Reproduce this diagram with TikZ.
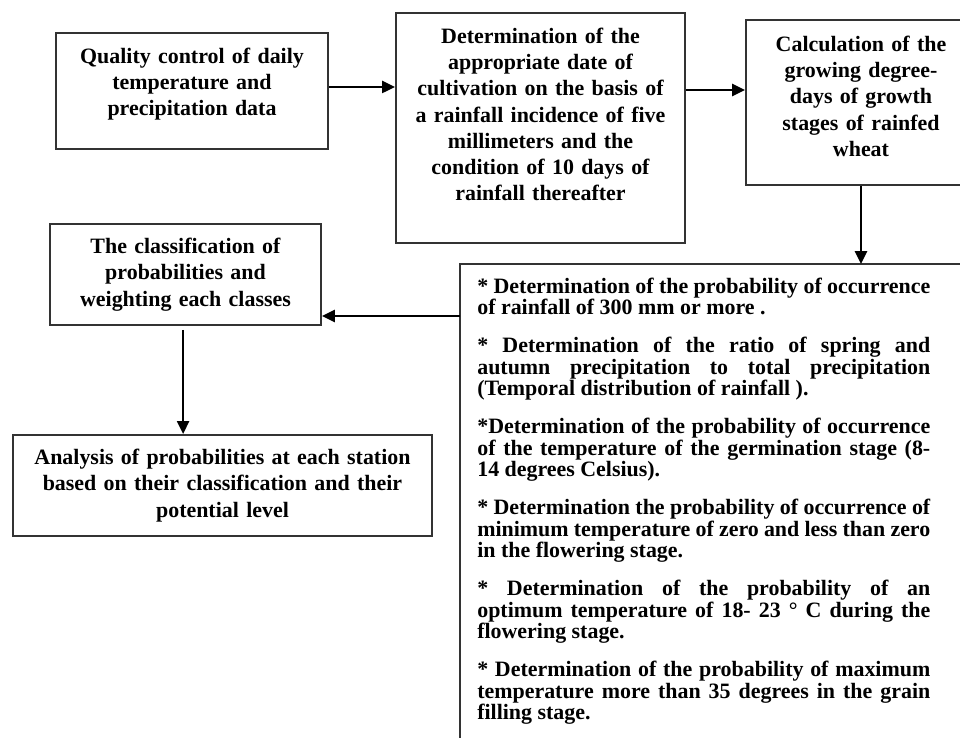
\documentclass[tikz,border=0pt]{standalone}
\usepackage{fontspec}
\setmainfont{Liberation Serif}
\usetikzlibrary{arrows.meta,calc,positioning}

\begin{document}
\begin{tikzpicture}[
  font=\bfseries\fontsize{15.6}{18.5}\selectfont,
  >={Triangle[length=0.32cm,width=0.3cm]},
  proc/.style    ={draw=black!80,line width=1.4pt,rectangle,anchor=north west,
                   align=center,inner ysep=0pt},
  listbox/.style ={anchor=north west,align=justify,text width=11.325cm,
                   inner xsep=0.425cm,inner ysep=0pt,
                   font=\bfseries\fontsize{15.6}{15.4}\selectfont,
                   execute at begin node={\setlength{\parskip}{0.4cm}}},
  boxline/.style ={draw=black!80,line width=1.4pt},
  flow/.style    ={->,line width=1.4pt},
]

\useasboundingbox (0,0) rectangle (24,-18.425);
\clip (0,0) rectangle (24,-18.425);

%% ============================================================
%%  Top row: data -> sowing date -> GDD
%% ============================================================
\node[proc,minimum width=6.8cm,text width=6.4cm,
      text height=0.775cm,text depth=2.125cm] (qc) at (1.375,-0.8)
      {Quality control of daily\\temperature and\\precipitation data};

\node[proc,minimum width=7.225cm,text width=6.9cm,
      text height=0.775cm,text depth=4.975cm] (date) at (9.875,-0.3)
      {Determination of the\\appropriate date of\\cultivation on the basis of\\
       a rainfall incidence of five\\millimeters and the\\
       condition of 10 days of\\rainfall thereafter};

\node[proc,minimum width=5.75cm,text width=5.4cm,
      text height=0.8cm,text depth=3.325cm] (gdd) at (18.625,-0.475)
      {Calculation of the\\growing degree-\\days of growth\\
       stages of rainfed\\wheat};

\coordinate (qcout) at ([yshift=0.1cm]qc.east);
\draw[flow] (qcout) -- (qcout -| date.west);
\coordinate (dateout) at ([yshift=-1.95cm]date.north east);
\draw[flow] (dateout) -- (dateout -| gdd.west);

%% ============================================================
%%  Probability list (runs off the page)
%% ============================================================
\node[listbox,text height=0.725cm,text depth=12cm] (probs) at (11.5,-6.6)
      {* Determination of the probability of occurrence\linebreak
       of rainfall of 300 mm or more .\par
       * Determination of the ratio of spring and\linebreak
       autumn precipitation to total precipitation\linebreak
       (Temporal distribution of rainfall ).\par
       *Determination of the probability of occurrence\linebreak
       of the temperature of the germination stage (8-\linebreak
       14 degrees Celsius).\par
       * Determination the probability of occurrence of\linebreak
       minimum temperature of zero and less than zero\linebreak
       in the flowering stage.\par
       * Determination of the probability of an\linebreak
       optimum temperature of 18- 23 ° C during the\linebreak
       flowering stage.\par
       * Determination of the probability of maximum\linebreak
       temperature more than 35 degrees in the grain\linebreak
       filling stage.};
\draw[boxline] (probs.south west) |- ($(probs.north east)+(1,0)$);

\draw[flow] (gdd.south) -- (gdd.south |- probs.north);

%% ============================================================
%%  Left column: classes -> station analysis
%% ============================================================
\node[proc,minimum width=6.775cm,text width=6.4cm,
      text height=0.75cm,text depth=1.775cm] (classif) at (1.225,-5.575)
      {The classification of\\probabilities and\\weighting each classes};

\node[proc,minimum width=10.475cm,text width=10.2cm,
      text height=0.75cm,text depth=1.775cm] (analysis) at (0.3,-10.85)
      {Analysis of probabilities at each station\\
       based on their classification and their\\potential level};

\coordinate (probsout) at ([yshift=-1.3cm]probs.north west);
\draw[flow] (probsout) -- (probsout -| classif.east);
\coordinate (classout) at ([xshift=-0.06cm,yshift=-0.1cm]classif.south);
\draw[flow] (classout) -- (classout |- analysis.north);

\end{tikzpicture}
\end{document}
